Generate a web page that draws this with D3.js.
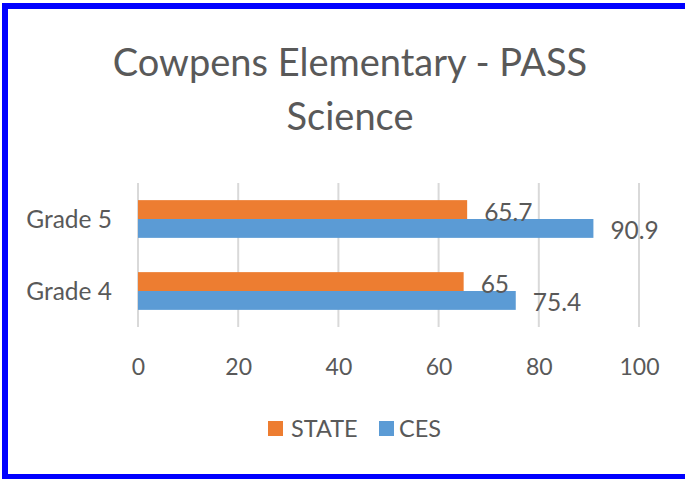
<!DOCTYPE html>
<html>
<head>
<meta charset="utf-8">
<script src="https://cdn.jsdelivr.net/npm/d3@7"></script>
<style>
  html, body { margin: 0; padding: 0; background: #fff; }
  svg { display: block; }
  text { font-family: Lato, "Open Sans", sans-serif; fill: #595959; }
</style>
</head>
<body>
<svg id="chart" width="685" height="479"></svg>
<script>
const titleLines = ["Cowpens Elementary - PASS", "Science"];
const categories = ["Grade 5", "Grade 4"];
const seriesNames = ["STATE", "CES"];
const stateValues = [65.7, 65];
const cesValues = [90.9, 75.4];
const xTicks = [0, 20, 40, 60, 80, 100];
const colors = ["#ED7D31", "#5B9BD5"];

const seriesValues = [stateValues, cesValues];
const svg = d3.select("#chart");
const W = 685, H = 479;

svg.append("rect").attr("x", 0).attr("y", 0).attr("width", W).attr("height", H).attr("fill", "#fff");

const plot = { left: 138, right: 639, top: 183, bottom: 327 };

const x = d3.scaleLinear().domain([0, 100]).range([plot.left, plot.right]);
const y = d3.scaleBand().domain(categories).range([plot.top, plot.bottom])
  .paddingInner(0.476).paddingOuter(0.238);
const ySub = d3.scaleBand().domain(seriesNames).range([0, y.bandwidth()]);

// Title
svg.append("g").selectAll("text").data(titleLines).join("text")
  .attr("x", 350).attr("y", (d, i) => 76 + i * 54)
  .attr("text-anchor", "middle")
  .style("font-size", "38px")
  .text(d => d);

// Gridlines
svg.append("g").selectAll("line").data(xTicks).join("line")
  .attr("x1", d => x(d)).attr("x2", d => x(d))
  .attr("y1", plot.top).attr("y2", plot.bottom)
  .attr("stroke", "#D9D9D9").attr("stroke-width", 2);

// Bars
const rows = [];
categories.forEach((c, ci) => seriesNames.forEach((s, si) => rows.push({ c, s, si, v: seriesValues[si][ci] })));

svg.append("g").selectAll("rect").data(rows).join("rect")
  .attr("x", x(0))
  .attr("y", d => y(d.c) + ySub(d.s))
  .attr("width", d => x(d.v) - x(0))
  .attr("height", ySub.bandwidth())
  .attr("fill", d => colors[d.si]);

// Data labels
svg.append("g").selectAll("text").data(rows).join("text")
  .attr("x", d => x(d.v) + 17)
  .attr("y", d => y(d.c) + ySub(d.s) + ySub.bandwidth() / 2 + 11)
  .style("font-size", "24.5px")
  .text(d => d.v);

// Category axis labels
svg.append("g").selectAll("text").data(categories).join("text")
  .attr("x", 112)
  .attr("y", d => y(d) + y.bandwidth() / 2 + 9)
  .attr("text-anchor", "end")
  .style("font-size", "24.5px")
  .text(d => d);

// X axis tick labels
const xAxis = d3.axisBottom(x).tickValues(xTicks).tickSize(0).tickPadding(0);
const gx = svg.append("g").attr("transform", `translate(0, ${plot.bottom})`).call(xAxis);
gx.select(".domain").remove();
gx.selectAll("text")
  .attr("y", 47.5).attr("dy", null)
  .style("font-family", "Lato, 'Open Sans', sans-serif")
  .style("font-size", "23px").attr("fill", "#595959");

// Legend
const legendItems = [{ name: seriesNames[0], sx: 268, tx: 291 }, { name: seriesNames[1], sx: 379, tx: 399 }];
const lg = svg.append("g");
lg.selectAll("rect").data(legendItems).join("rect")
  .attr("x", d => d.sx).attr("y", 421).attr("width", 15).attr("height", 15)
  .attr("fill", (d, i) => colors[i]);
lg.selectAll("text").data(legendItems).join("text")
  .attr("x", d => d.tx).attr("y", 437)
  .style("font-size", "23.5px")
  .text(d => d.name);

// Outer blue frame
svg.append("rect").attr("x", 5).attr("y", 6).attr("width", 720).attr("height", 471)
  .attr("fill", "none").attr("stroke", "#0000FF").attr("stroke-width", 6);
</script>
</body>
</html>
